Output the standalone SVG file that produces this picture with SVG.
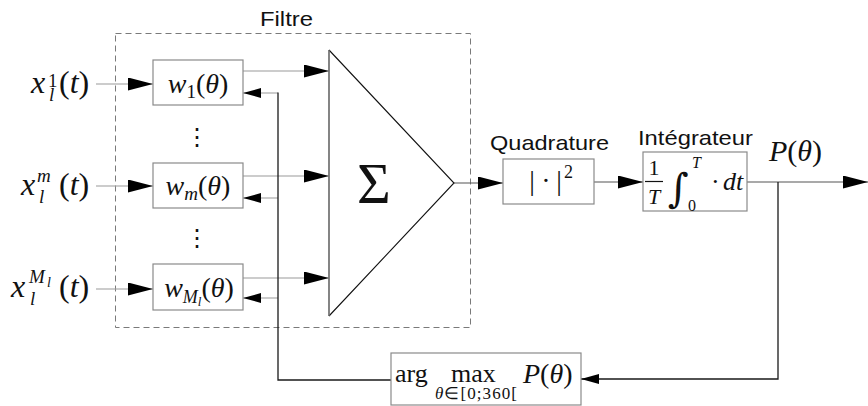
<svg xmlns="http://www.w3.org/2000/svg" width="868" height="406" viewBox="0 0 868 406">
<defs>
<style>
.box{fill:#fff;stroke:#8a8a8a;stroke-width:1.2}
.gl{fill:none;stroke:#9a9a9a;stroke-width:1.2}
.bl{fill:none;stroke:#1a1a1a;stroke-width:1.3}
.dl{fill:none;stroke:#555;stroke-width:1.1}
.sans{font-family:"Liberation Sans",Arial,sans-serif;font-size:21px;fill:#111}
.m{font-family:"Liberation Serif","Times New Roman",serif;fill:#111}
.i{font-style:italic}
</style>
<marker id="big" markerUnits="userSpaceOnUse" markerWidth="25" markerHeight="13" refX="25" refY="6.5" orient="auto">
<path d="M0,0 L25,6.5 L0,13 z" fill="#000"/>
</marker>
<marker id="small" markerUnits="userSpaceOnUse" markerWidth="18" markerHeight="10" refX="18" refY="5" orient="auto">
<path d="M0,0 L18,5 L0,10 z" fill="#000"/>
</marker>
</defs>
<rect width="868" height="406" fill="#fff"/>

<g id="filtre">
<rect x="115.5" y="33.5" width="355" height="294" fill="none" stroke="#7a7a7a" stroke-width="1" stroke-dasharray="6,4"/>
<text class="sans" x="260" y="26" textLength="53" lengthAdjust="spacingAndGlyphs">Filtre</text>
</g>

<g id="connectors">
<line class="gl" x1="96" y1="84" x2="153" y2="84" marker-end="url(#big)"/>
<line class="gl" x1="96" y1="186" x2="153" y2="186" marker-end="url(#big)"/>
<line class="gl" x1="96" y1="289" x2="153" y2="289" marker-end="url(#big)"/>
<line class="gl" x1="243" y1="71" x2="329" y2="71" marker-end="url(#big)"/>
<line class="gl" x1="243" y1="176" x2="329" y2="176" marker-end="url(#big)"/>
<line class="gl" x1="243" y1="278" x2="329" y2="278" marker-end="url(#big)"/>
<line class="gl" x1="278" y1="93" x2="243" y2="93" marker-end="url(#small)"/>
<line class="gl" x1="278" y1="198" x2="243" y2="198" marker-end="url(#small)"/>
<line class="gl" x1="278" y1="298" x2="243" y2="298" marker-end="url(#small)"/>
<path class="bl" d="M278,92.5 L278,380 L391,380"/>
<line class="dl" x1="454" y1="183" x2="503" y2="183" marker-end="url(#big)"/>
<line class="dl" x1="594" y1="182" x2="643" y2="182" marker-end="url(#big)"/>
<line class="dl" x1="747" y1="182" x2="868" y2="182" marker-end="url(#big)"/>
<path class="bl" d="M778,182 L778,379 L581,379" marker-end="url(#small)"/>
</g>

<g id="x1">
<text class="m i" x="31" y="93" font-size="32">x</text>
<text class="m" x="48" y="87" font-size="19">1</text>
<text class="m i" x="49" y="101" font-size="19">l</text>
<text class="m" x="59" y="93" font-size="32">(<tspan class="i">t</tspan>)</text>
</g>
<g id="xm">
<text class="m i" x="21" y="195" font-size="32">x</text>
<text class="m i" x="37" y="182" font-size="19">m</text>
<text class="m i" x="39" y="203" font-size="19">l</text>
<text class="m" x="59" y="195" font-size="32">(<tspan class="i">t</tspan>)</text>
</g>
<g id="xM">
<text class="m i" x="11" y="297" font-size="32">x</text>
<text class="m i" x="29" y="283" font-size="19">M</text>
<text class="m i" x="47" y="287" font-size="14">l</text>
<text class="m i" x="30" y="305" font-size="19">l</text>
<text class="m" x="59" y="297" font-size="32">(<tspan class="i">t</tspan>)</text>
</g>

<g id="w1">
<rect class="box" x="153" y="60" width="90" height="45"/>
<text class="m" x="198" y="93" font-size="28" text-anchor="middle"><tspan class="i">w</tspan><tspan font-size="19" dy="5">1</tspan><tspan dy="-5">(</tspan><tspan class="i">θ</tspan>)</text>
</g>
<g id="wm">
<rect class="box" x="153" y="163" width="90" height="45"/>
<text class="m" x="198" y="195" font-size="28" text-anchor="middle"><tspan class="i">w</tspan><tspan class="i" font-size="19" dy="5">m</tspan><tspan dy="-5">(</tspan><tspan class="i">θ</tspan>)</text>
</g>
<g id="wM">
<rect class="box" x="153" y="264" width="90" height="46"/>
<text class="m" x="199" y="297" font-size="28" text-anchor="middle"><tspan class="i">w</tspan><tspan class="i" font-size="18" dy="6">M</tspan><tspan class="i" font-size="13" dy="3">l</tspan><tspan dy="-9">(</tspan><tspan class="i">θ</tspan>)</text>
</g>

<g id="dots">
<text class="m" x="197" y="145" font-size="24" text-anchor="middle">⋮</text>
<text class="m" x="197" y="246" font-size="24" text-anchor="middle">⋮</text>
</g>

<g id="sigma">
<path d="M329,50 L454,183 L329,316" fill="none" stroke="#111" stroke-width="1.1"/>
<line x1="329" y1="50" x2="329" y2="316" stroke="#666" stroke-width="1.6"/>
<text class="m" x="374" y="203" font-size="58" text-anchor="middle">Σ</text>
</g>

<g id="quadrature">
<text class="sans" x="490" y="150" textLength="119" lengthAdjust="spacingAndGlyphs">Quadrature</text>
<rect class="box" x="503" y="159" width="91" height="45"/>
<text class="m" x="532" y="190" font-size="28" text-anchor="middle">|</text>
<text class="m" x="546" y="190" font-size="28" text-anchor="middle">·</text>
<text class="m" x="559" y="190" font-size="28" text-anchor="middle">|</text>
<text class="m" x="564" y="178" font-size="18">2</text>
</g>

<g id="integrateur">
<text class="sans" x="638" y="145" textLength="115" lengthAdjust="spacingAndGlyphs">Intégrateur</text>
<rect class="box" x="643" y="152" width="104" height="59"/>
<text class="m" x="654" y="175" font-size="22" text-anchor="middle">1</text>
<line x1="645" y1="181.5" x2="663" y2="181.5" stroke="#111" stroke-width="1.2"/>
<text class="m i" x="654" y="204" font-size="22" text-anchor="middle">T</text>
<text x="668" y="202" font-size="40" font-family="DejaVu Serif,serif" fill="#111">∫</text>
<text class="m i" x="692" y="168" font-size="16">T</text>
<text class="m" x="688" y="211" font-size="16">0</text>
<text class="m" x="711" y="190" font-size="26">·</text>
<text class="m i" x="723" y="190" font-size="26">dt</text>
</g>

<g id="ptheta">
<text class="m" x="769" y="161" font-size="30"><tspan class="i">P</tspan>(<tspan class="i">θ</tspan>)</text>
</g>

<g id="argmax">
<rect class="box" x="391" y="353" width="190" height="52"/>
<text class="m" x="395" y="382" font-size="26">arg</text>
<text class="m" x="451" y="382" font-size="26">max</text>
<text class="m" x="435" y="399" font-size="17" textLength="82" lengthAdjust="spacing"><tspan class="i">θ</tspan>∈[0;360[</text>
<text class="m" x="523" y="383" font-size="28"><tspan class="i">P</tspan>(<tspan class="i">θ</tspan>)</text>
</g>
</svg>
